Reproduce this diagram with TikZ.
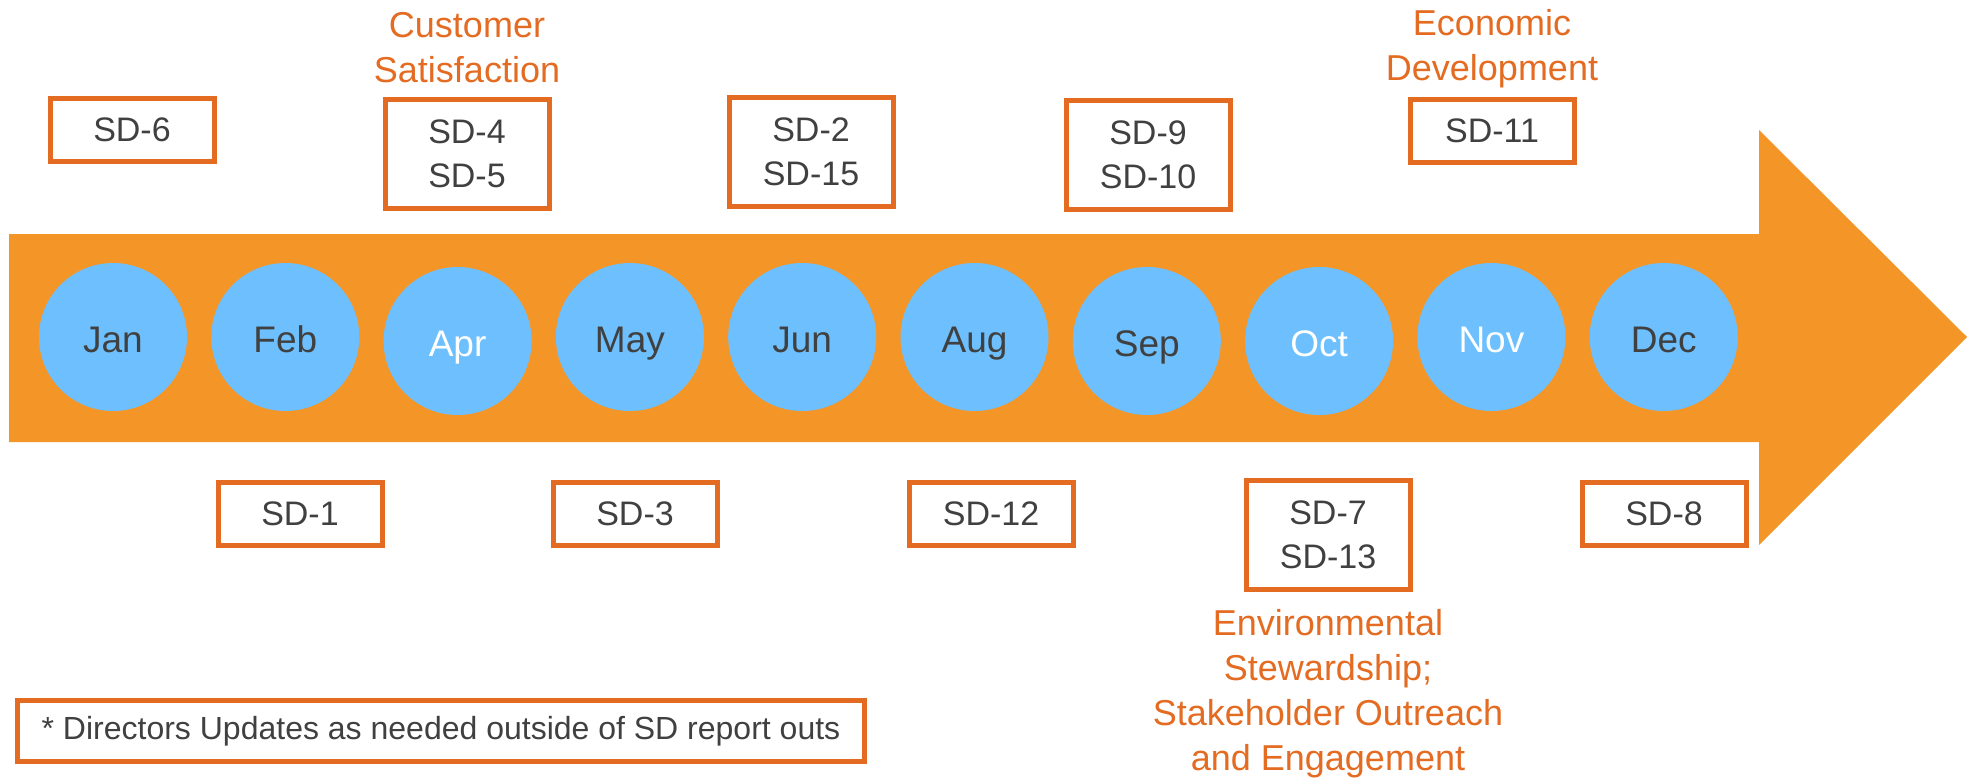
\documentclass[tikz,border=0pt]{standalone}
\usepackage{fontspec}
\setmainfont{Liberation Sans}
\usetikzlibrary{positioning}
\definecolor{arroworange}{HTML}{F39627}
\definecolor{boxorange}{HTML}{E46B22}
\definecolor{monthblue}{HTML}{6DC0FD}
\definecolor{textgray}{HTML}{404040}

\begin{document}
\begin{tikzpicture}[x=1pt,y=-1pt,
  month/.style={circle,fill=monthblue,minimum size=148pt,inner sep=0pt,text height=30pt,text depth=0pt,font=\fontsize{37}{44}\selectfont},
  sdbox/.style={draw=boxorange,line width=5pt,fill=white,minimum width=164pt,minimum height=63pt,inner sep=0pt,align=center,text=textgray,font=\fontsize{34}{44}\selectfont},
  sdbox2/.style={sdbox,minimum height=109pt},
  goal/.style={text=boxorange,align=center,inner sep=0pt,font=\fontsize{36}{45}\selectfont}]
\useasboundingbox (0,0) rectangle (1974,779);
% timeline arrow
\fill[arroworange] (9,234) -- (1759,234) -- (1759,130) -- (1967,337) -- (1759,545) -- (1759,442) -- (9,442) -- cycle;
% months
\foreach \m/\c/\dy [count=\i from 0] in {Jan/textgray/0,Feb/textgray/0,Apr/white/4,May/textgray/0,Jun/textgray/0,Aug/textgray/0,Sep/textgray/4,Oct/white/4,Nov/white/0,Dec/textgray/0}
  \node[month,text=\c] (m\m) at ({113+172.3*\i},{337+\dy}) {\m};
% report outs above the arrow
\node[sdbox] (sd6) at (132,130) {SD-6};
\node[sdbox2] (sd45) at (467,154) {SD-4\\SD-5};
\node[sdbox2] (sd215) at (811,152) {SD-2\\SD-15};
\node[sdbox2] (sd910) at (1148,155) {SD-9\\SD-10};
\node[sdbox] (sd11) at (1492,131) {SD-11};
% report outs below the arrow
\node[sdbox] (sd1) at (300,514) {SD-1};
\node[sdbox] (sd3) at (635,514) {SD-3};
\node[sdbox] (sd12) at (991,514) {SD-12};
\node[sdbox2] (sd713) at (1328,535) {SD-7\\SD-13};
\node[sdbox] (sd8) at (1664,514) {SD-8};
% goals
\node[goal,above=14pt of sd45] (custsat) {Customer\\Satisfaction};
\node[goal,above=9pt of sd11] (econdev) {Economic\\Development};
\node[goal,below=17pt of sd713] (envstew) {Environmental\\Stewardship;\\Stakeholder Outreach\\and Engagement};
% footnote
\node[sdbox,anchor=west,minimum width=847pt,minimum height=61pt,font=\fontsize{32}{40}\selectfont] (note) at (15,731) {* Directors Updates as needed outside of SD report outs};
\end{tikzpicture}
\end{document}
